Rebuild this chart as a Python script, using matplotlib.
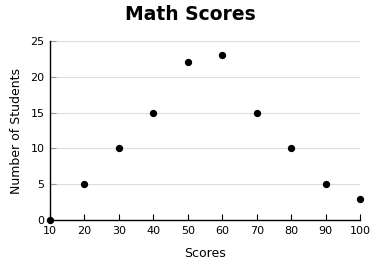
import matplotlib
matplotlib.use("Agg")
import matplotlib.pyplot as plt

scores = [10, 20, 30, 40, 50, 60, 70, 80, 90, 100]
students = [0, 5, 10, 15, 22, 23, 15, 10, 5, 3]
xticks = [10, 20, 30, 40, 50, 60, 70, 80, 90, 100]
yticks = [0, 5, 10, 15, 20, 25]

fig = plt.figure(figsize=(3.8, 2.7), dpi=100)
ax = fig.add_axes([50/380, 1-220/270, 310/380, 179/270])
ax.scatter(scores, students, s=18, color='black', zorder=5, clip_on=False)
ax.set_xlim(10, 100)
ax.set_ylim(0, 25)
ax.set_xticks(xticks)
ax.set_yticks(yticks)
ax.yaxis.grid(True, color='#dddddd', linewidth=0.8)
ax.set_axisbelow(True)
for s in ['top', 'right']:
    ax.spines[s].set_visible(False)
for s in ['left', 'bottom']:
    ax.spines[s].set_linewidth(1.0)
ax.tick_params(axis='x', direction='in', length=4, labelsize=8, pad=4, colors='black')
ax.tick_params(axis='y', direction='in', length=4, labelsize=8, pad=4)
ax.tick_params(axis='y', color='#999999')
ax.set_xlabel('Scores', fontsize=9, labelpad=8)
ax.set_ylabel('Number of Students', fontsize=9, labelpad=5)
fig.text(0.5, 1-15/270, 'Math Scores', ha='center', va='center', fontsize=13.5, fontweight='bold')
fig.savefig('out.png', dpi=100)
